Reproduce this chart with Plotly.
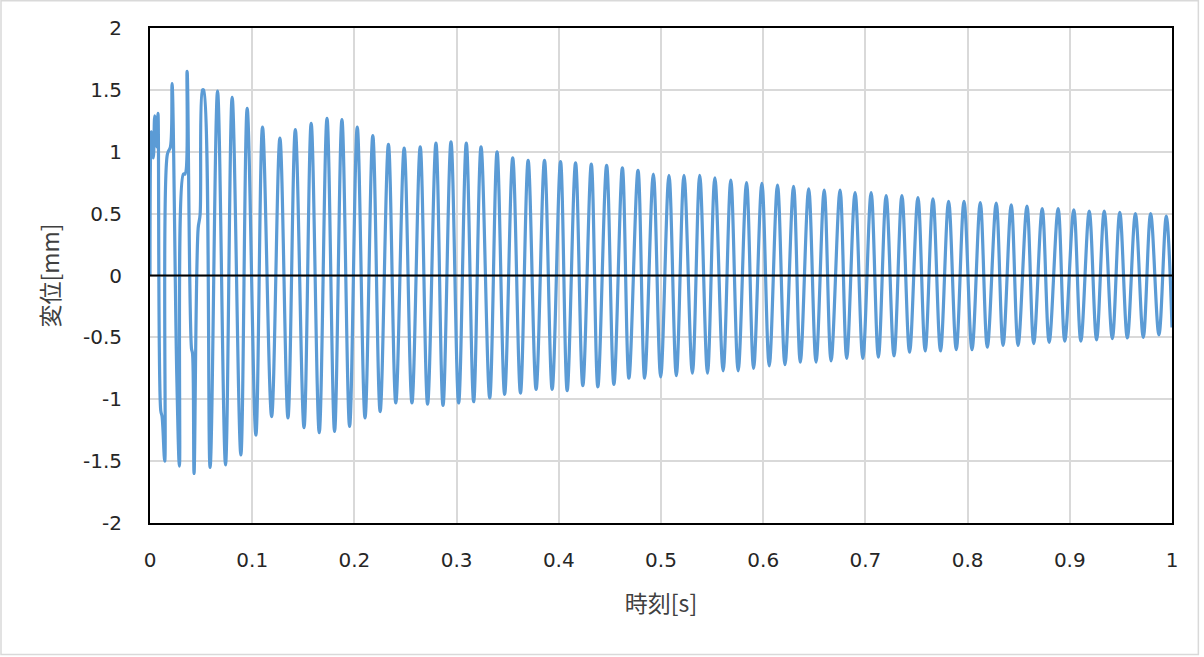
import plotly.graph_objects as go

time_s = [
    0.0, 0.0013, 0.0033, 0.0046, 0.0066, 0.0078, 0.0105, 0.0118, 0.0144,
    0.0170, 0.0200, 0.0216, 0.0262, 0.0288, 0.0327, 0.0343, 0.0363,
    0.0406, 0.0416, 0.0431, 0.0471, 0.0490, 0.0514, 0.0524, 0.0588,
    0.0661, 0.0739, 0.0804, 0.0889, 0.0951, 0.1036,
    0.1101, 0.1190, 0.1271, 0.1350, 0.1422, 0.1507, 0.1577, 0.1656,
    0.1732, 0.1806, 0.1878, 0.1953, 0.2028, 0.2104, 0.2180, 0.2252,
    0.2333, 0.2405, 0.2487, 0.2563, 0.2644, 0.2716, 0.2798, 0.2867,
    0.2945, 0.3020, 0.3095, 0.3167, 0.3239, 0.3324, 0.3396, 0.3470,
    0.3549, 0.3625, 0.3700, 0.3778, 0.3860, 0.3935, 0.4017, 0.4082,
    0.4164, 0.4235, 0.4318, 0.4382, 0.4468, 0.4539, 0.4622, 0.4686,
    0.4775, 0.4840, 0.4925, 0.4997, 0.5078, 0.5150, 0.5225, 0.5307,
    0.5379, 0.5455, 0.5527, 0.5608, 0.5683, 0.5755, 0.5837, 0.5906,
    0.5987, 0.6059, 0.6140, 0.6213, 0.6297, 0.6363, 0.6445, 0.6517,
    0.6597, 0.6664, 0.6752, 0.6817, 0.6899, 0.6975, 0.7056, 0.7127,
    0.7203, 0.7280, 0.7357, 0.7432, 0.7514, 0.7585, 0.7661, 0.7735,
    0.7814, 0.7889, 0.7965, 0.8043, 0.8124, 0.8193, 0.8280, 0.8347,
    0.8427, 0.8494, 0.8581, 0.8647, 0.8730, 0.8798, 0.8886, 0.8951,
    0.9039, 0.9108, 0.9190, 0.9262, 0.9337, 0.9416, 0.9489, 0.9563,
    0.9642, 0.9719, 0.9791, 0.9872, 0.9944, 1.0,
]

disp_mm = [
    0.0, 1.16, 0.95, 1.29, 1.04, 1.31, -1.09, -1.14, -1.50,
    0.98, 1.04, 1.55, -0.81, -1.54, 0.82, 0.82, 1.65,
    -0.59, -0.63, -1.60, 0.38, 0.49, 1.50, 1.50, -1.55,
    1.49, -1.53, 1.44, -1.45, 1.35, -1.29,
    1.20, -1.14, 1.11, -1.15, 1.18, -1.23, 1.23, -1.27,
    1.27, -1.26, 1.26, -1.22, 1.20, -1.15, 1.13, -1.10,
    1.06, -1.03, 1.03, -1.03, 1.04, -1.04, 1.07, -1.05,
    1.08, -1.03, 1.07, -1.02, 1.04, -0.99, 1.00, -0.96,
    0.95, -0.95, 0.93, -0.92, 0.93, -0.92, 0.92, -0.93,
    0.91, -0.89, 0.90, -0.90, 0.89, -0.88, 0.87, -0.83,
    0.85, -0.83, 0.82, -0.82, 0.81, -0.81, 0.81, -0.79,
    0.81, -0.79, 0.79, -0.77, 0.77, -0.77, 0.75, -0.75,
    0.745, -0.73, 0.73, -0.72, 0.72, -0.70, 0.70, -0.70,
    0.69, -0.69, 0.69, -0.67, 0.67, -0.67, 0.67, -0.66,
    0.645, -0.65, 0.645, -0.62, 0.63, -0.61, 0.62, -0.61,
    0.60, -0.60, 0.60, -0.60, 0.59, -0.58, 0.585, -0.565,
    0.57, -0.565, 0.56, -0.55, 0.54, -0.54, 0.54, -0.53,
    0.53, -0.53, 0.52, -0.52, 0.52, -0.51, 0.51, -0.505,
    0.50, -0.50, 0.50, -0.48, 0.48, -0.42,
]

x_ticks = [0, 0.1, 0.2, 0.3, 0.4, 0.5, 0.6, 0.7, 0.8, 0.9, 1]
x_tick_labels = ["0", "0.1", "0.2", "0.3", "0.4", "0.5", "0.6", "0.7", "0.8", "0.9", "1"]
y_ticks = [-2, -1.5, -1, -0.5, 0, 0.5, 1, 1.5, 2]
y_tick_labels = ["-2", "-1.5", "-1", "-0.5", "0", "0.5", "1", "1.5", "2"]

x_title = "時刻[s]"
y_title = "変位[mm]"

TICK_FONT = dict(family="DejaVu Sans, sans-serif", size=20, color="#262626")
TITLE_FONT = dict(family="Noto Sans CJK JP, sans-serif", size=23, color="#404040")

fig = go.Figure()
fig.add_trace(go.Scatter(
    x=time_s, y=disp_mm, mode="lines",
    line=dict(color="#5B9BD5", width=3.2, shape="spline", smoothing=1.0),
    showlegend=False, hoverinfo="skip",
))

axis_common = dict(
    showline=True, mirror=True, linecolor="black", linewidth=2,
    showgrid=True, gridcolor="#d9d9d9", gridwidth=1.5,
    zeroline=False, ticks="", layer="above traces",
    tickfont=TICK_FONT,
)

fig.update_layout(
    width=1204, height=657,
    margin=dict(l=150, r=32, t=28, b=134),
    paper_bgcolor="white", plot_bgcolor="white",
    xaxis=dict(range=[0, 1], tickmode="array", tickvals=x_ticks, ticktext=x_tick_labels,
               ticklabelstandoff=18,
               title=dict(text=x_title, font=TITLE_FONT, standoff=25),
               **axis_common),
    yaxis=dict(range=[-2, 2], tickmode="array", tickvals=y_ticks, ticktext=y_tick_labels,
               ticklabelstandoff=22,
               title=dict(text=y_title, font=TITLE_FONT, standoff=17),
               **axis_common),
    shapes=[
        dict(type="line", xref="paper", yref="y", x0=0, x1=1, y0=0, y1=0,
             line=dict(color="black", width=2), layer="above"),
        dict(type="rect", xref="paper", yref="paper",
             x0=-0.1458, x1=1.0258, y0=-0.2659, y1=1.0552,
             line=dict(color="#d9d9d9", width=1.5), layer="below"),
    ],
)

fig.write_html(
    "out.html",
    config={"displayModeBar": False},
    post_script="document.body.style.margin='0';document.body.style.overflow='hidden';",
)
